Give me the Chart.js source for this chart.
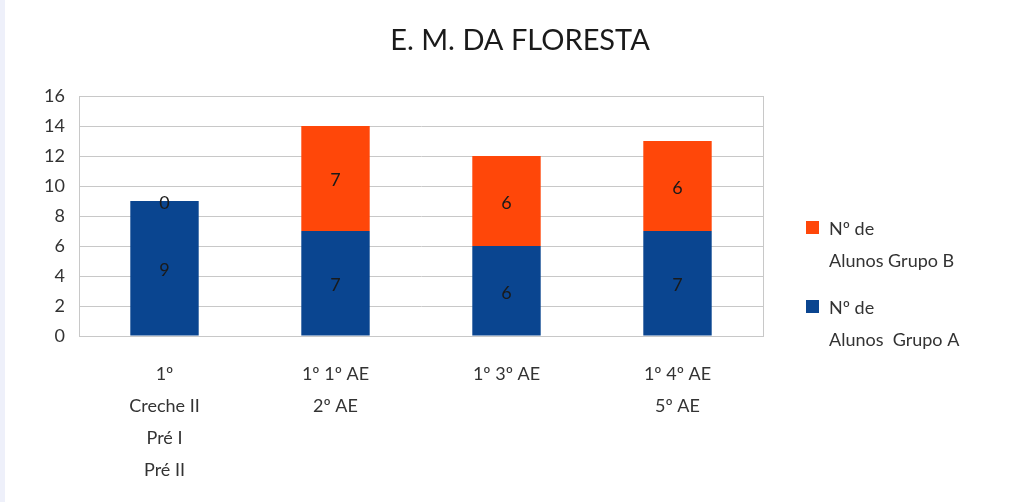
<!DOCTYPE html>
<html>
<head>
<meta charset="utf-8">
<script src="https://cdn.jsdelivr.net/npm/chart.js@4"></script>
<style>
    html, body { margin: 0; padding: 0; background: #fff; }
    body { border-left: 5px solid #eef0fa; }
    #wrap { width: 1016px; height: 502px; }
</style>
</head>
<body>
<div id="wrap"><canvas id="floresta"></canvas></div>
<script>
// chart values
const chartTitle = 'E. M. DA FLORESTA';
const categories = [
    ['1º', 'Creche II', 'Pré I', 'Pré II'],
    ['1º 1º AE', '2º AE'],
    ['1º 3º AE'],
    ['1º 4º AE', '5º AE']
];
const grupoA = [9, 7, 6, 7];
const grupoB = [0, 7, 6, 6];
const legendA = ['Nº de', 'Alunos  Grupo A'];
const legendB = ['Nº de', 'Alunos Grupo B'];

const FONT = 'Lato, "Open Sans", sans-serif';
const TEXT = '#333';

// value labels in the middle of each segment
const barLabels = {
    id: 'barLabels',
    afterDatasetsDraw(chart) {
        const ctx = chart.ctx;
        ctx.save();
        ctx.font = '18px ' + FONT;
        ctx.fillStyle = '#1a1a1a';
        ctx.textAlign = 'center';
        ctx.textBaseline = 'middle';
        chart.data.datasets.forEach((ds, i) => {
            chart.getDatasetMeta(i).data.forEach((bar, j) => {
                const y = (bar.y + bar.base) / 2;
                ctx.fillText(ds.data[j], bar.x, y + 2);
            });
        });
        ctx.restore();
    }
};

// title, border round the plot and the legend on the right
const frameAndLegend = {
    id: 'frameAndLegend',
    afterDraw(chart) {
        const ctx = chart.ctx;
        const a = chart.chartArea;
        ctx.save();
        ctx.strokeStyle = '#c8c8c8';
        ctx.lineWidth = 1;
        ctx.strokeRect(Math.round(a.left) + 0.5, Math.round(a.top) + 0.5,
            Math.round(a.right - a.left), Math.round(a.bottom - a.top));

        ctx.font = '29px ' + FONT;
        ctx.fillStyle = '#1a1a1a';
        ctx.textAlign = 'center';
        ctx.textBaseline = 'middle';
        ctx.fillText(chartTitle, 515, 41);

        ctx.font = '18px ' + FONT;
        ctx.textAlign = 'left';
        const items = [
            { color: chart.data.datasets[1].backgroundColor, lines: legendB, y: 229 },
            { color: chart.data.datasets[0].backgroundColor, lines: legendA, y: 308 }
        ];
        items.forEach(it => {
            ctx.fillStyle = it.color;
            ctx.fillRect(801, it.y - 8, 13, 13);
            ctx.fillStyle = TEXT;
            it.lines.forEach((line, k) => {
                ctx.fillText(line, 824, it.y + k * 32);
            });
        });
        ctx.restore();
    }
};

new Chart(document.getElementById('floresta'), {
    type: 'bar',
    data: {
        labels: categories,
        datasets: [{
            label: 'Nº de Alunos Grupo A',
            data: grupoA,
            backgroundColor: '#0a4590',
            barPercentage: 0.8,
            categoryPercentage: 0.5
        }, {
            label: 'Nº de Alunos Grupo B',
            data: grupoB,
            backgroundColor: '#ff4709',
            barPercentage: 0.8,
            categoryPercentage: 0.5
        }]
    },
    options: {
        responsive: true,
        maintainAspectRatio: false,
        animation: false,
        layout: {
            padding: { left: 14, right: 258, top: 96, bottom: 0 }
        },
        plugins: {
            legend: { display: false },
            tooltip: { enabled: false },
            title: { display: false }
        },
        scales: {
            x: {
                stacked: true,
                grid: { display: false, drawTicks: false },
                border: { display: false },
                ticks: {
                    color: TEXT,
                    font: { family: FONT, size: 18, lineHeight: 1.78 },
                    padding: 22,
                    maxRotation: 0
                },
                afterFit(s) { s.height = 166; }
            },
            y: {
                stacked: true,
                min: 0,
                max: 16,
                grid: { color: '#c8c8c8', drawTicks: false },
                border: { color: '#c8c8c8' },
                ticks: {
                    stepSize: 2,
                    color: TEXT,
                    font: { family: FONT, size: 18 },
                    padding: 14
                },
                afterFit(s) { s.width = 60; }
            }
        }
    },
    plugins: [barLabels, frameAndLegend]
});
</script>
</body>
</html>
